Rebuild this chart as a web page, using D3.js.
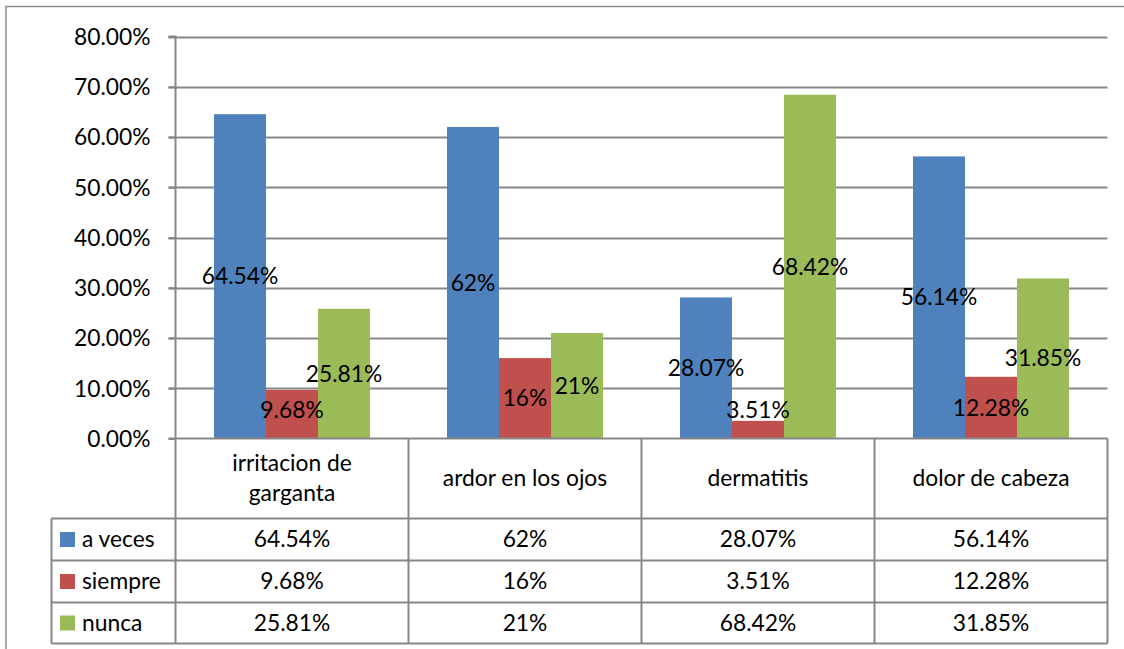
<!DOCTYPE html>
<html><head><meta charset="utf-8">
<script src="https://cdn.jsdelivr.net/npm/d3@7"></script>
<style>body{margin:0;background:#fff}svg{display:block}text{font-family:Lato,"Open Sans",sans-serif;fill:#000}</style>
</head><body>
<svg id="c" width="1124" height="649"></svg>
<script>
const categories = ["irritacion de garganta","ardor en los ojos","dermatitis","dolor de cabeza"];
const categoryLines = [["irritacion de","garganta"],["ardor en los ojos"],["dermatitis"],["dolor de cabeza"]];
const seriesNames = ["a veces","siempre","nunca"];
const aVeces = [64.54, 62, 28.07, 56.14];
const siempre = [9.68, 16, 3.51, 12.28];
const nunca = [25.81, 21, 68.42, 31.85];
const labelText = [
  ["64.54%","62%","28.07%","56.14%"],
  ["9.68%","16%","3.51%","12.28%"],
  ["25.81%","21%","68.42%","31.85%"]
];
const yTicks = [0,10,20,30,40,50,60,70,80];
const colors = ["#4F81BD","#C0504D","#9BBB59"];

const series = [aVeces, siempre, nunca];
const svg = d3.select("#c");
const L=175.5, R=1107.5, T=36.5, B=438.5;
const FS = 22.8;
const grid = "#878787";

// outer frame
svg.append("rect").attr("x",6).attr("y",6.5).attr("width",1200).attr("height",700)
  .attr("fill","none").attr("stroke","#8c8c8c").attr("stroke-width",1.5);

const y = d3.scaleLinear().domain([0,80]).range([B,T]);
const x0 = d3.scaleBand().domain(categories).range([L,R]).paddingInner(0).paddingOuter(0);
const x1 = d3.scaleBand().domain(seriesNames).range([0,x0.bandwidth()]).paddingInner(0).paddingOuter(0.74);

// gridlines
svg.append("g").selectAll("line").data(yTicks.filter(d=>d>0)).join("line")
  .attr("x1",L-7).attr("x2",R).attr("y1",d=>Math.round(y(d))+0.5).attr("y2",d=>Math.round(y(d))+0.5)
  .attr("stroke",grid).attr("stroke-width",2);

// y axis
const yAxis = d3.axisLeft(y).tickValues(yTicks).tickSize(7).tickFormat(d=>d3.format(".2f")(d)+"%");
const ga = svg.append("g").attr("transform",`translate(${L},0)`).call(yAxis);
ga.select(".domain").attr("stroke",grid).attr("stroke-width",2).attr("d",`M-7,${T}H0V${B}`);
ga.selectAll(".tick line").attr("stroke",grid).attr("stroke-width",2);
ga.selectAll(".tick text").attr("x",-25).attr("font-size",FS).attr("font-family","Lato").attr("fill","#000").attr("dy","0.35em");

// bars
seriesNames.forEach((s,si)=>{
  svg.append("g").selectAll("rect").data(categories).join("rect")
    .attr("x",c=>x0(c)+x1(s)).attr("width",x1.bandwidth())
    .attr("y",(c,i)=>y(series[si][i])).attr("height",(c,i)=>B-y(series[si][i]))
    .attr("fill",colors[si]);
});
// data labels
seriesNames.forEach((s,si)=>{
  svg.append("g").selectAll("text").data(categories).join("text")
    .attr("x",c=>x0(c)+x1(s)+x1.bandwidth()/2)
    .attr("y",(c,i)=>Math.min((y(series[si][i])+B)/2, B-28))
    .attr("dy","0.35em").attr("text-anchor","middle").attr("font-size",FS)
    .text((c,i)=>labelText[si][i]);
});

// x axis line
svg.append("line").attr("x1",L-7).attr("x2",R).attr("y1",B).attr("y2",B).attr("stroke",grid).attr("stroke-width",2);

// table
const rowY = [518.5,560.5,602.5,643.5];
const tg = svg.append("g").attr("stroke",grid).attr("stroke-width",2);
const colEdges = [L].concat(categories.map(c=>x0(c)+x0.bandwidth()));
colEdges.forEach(xx=>tg.append("line").attr("x1",xx).attr("x2",xx).attr("y1",B).attr("y2",rowY[3]));
tg.append("line").attr("x1",51.5).attr("x2",51.5).attr("y1",rowY[0]).attr("y2",rowY[3]);
rowY.forEach(yy=>tg.append("line").attr("x1",51.5).attr("x2",R).attr("y1",yy).attr("y2",yy));

// category labels
categories.forEach((c,i)=>{
  const lines = categoryLines[i];
  const cx = x0(c)+x0.bandwidth()/2, cy=(B+rowY[0])/2;
  const lh=30;
  lines.forEach((ln,j)=>{
    svg.append("text").attr("x",cx).attr("y",cy+(j-(lines.length-1)/2)*lh)
      .attr("dy","0.35em").attr("text-anchor","middle").attr("font-size",FS).text(ln);
  });
});
// rows
seriesNames.forEach((s,si)=>{
  const cy=(rowY[si]+rowY[si+1])/2;
  svg.append("rect").attr("x",60).attr("y",cy-7.5).attr("width",15).attr("height",15).attr("fill",colors[si]);
  svg.append("text").attr("x",82).attr("y",cy).attr("dy","0.35em").attr("font-size",FS).text(s);
  categories.forEach((c,i)=>{
    svg.append("text").attr("x",x0(c)+x0.bandwidth()/2).attr("y",cy).attr("dy","0.35em")
      .attr("text-anchor","middle").attr("font-size",FS).text(labelText[si][i]);
  });
});
</script></body></html>
